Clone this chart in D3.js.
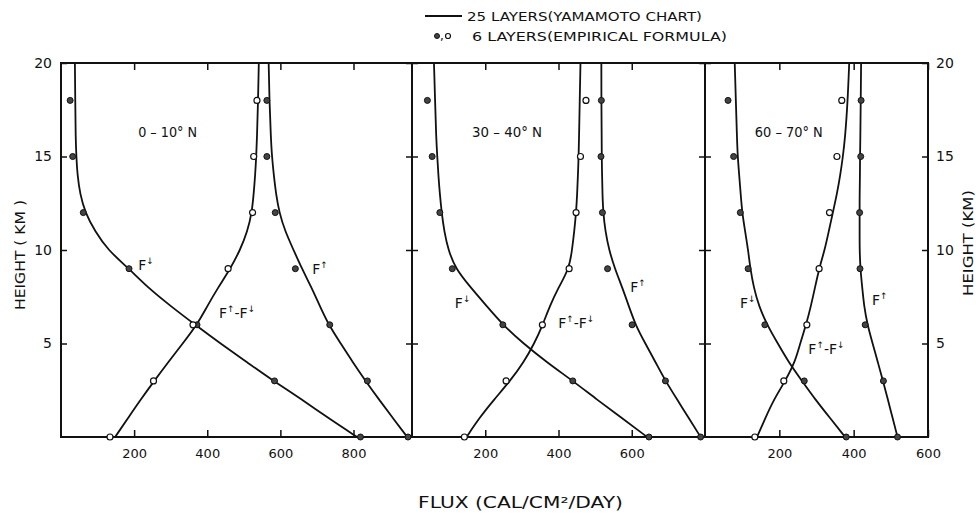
<!DOCTYPE html>
<html lang="en">
<head>
<meta charset="UTF-8" />
<title>Longwave flux profiles</title>
<script src="https://cdn.jsdelivr.net/npm/d3@7"></script>
<style>
  body { margin: 0; background: #fff; }
  svg { display: block; font-family: "DejaVu Sans", sans-serif; fill: #111; }
  .frame { fill: none; stroke: #111; stroke-width: 2; }
  .curve { fill: none; stroke: #111; stroke-width: 1.8; }
  .tick line { stroke: #111; stroke-width: 1.5; }
  .tick text { font-size: 13px; fill: #111; font-family: "DejaVu Sans", sans-serif; }
  .dot-fill { fill: #444; stroke: #111; stroke-width: 1; }
  .dot-open { fill: #fff; stroke: #111; stroke-width: 1.2; }
</style>
</head>
<body>
<svg id="chart" width="976" height="513"></svg>
<script>
  // heights (km) where the 25-layer curves were read
  const heights = [0, 1, 2, 3, 4, 5, 6, 7, 8, 9, 10, 11, 12, 13, 14, 15, 16, 18, 20];
  // heights of the 6-layer points
  const layerHeights = [0, 3, 6, 9, 12, 15, 18];

  const zones = ["0 – 10° N", "30 – 40° N", "60 – 70° N"];
  const fluxMax = [960, 800, 600];
  const fluxTicks = [[200, 400, 600, 800], [200, 400, 600], [200, 400, 600]];
  const heightTicks = [5, 10, 15, 20];

  // 25 layers (Yamamoto chart): F down, F up, F up - F down
  const down0 = [810, 732, 659, 581, 509, 436, 367, 300, 237, 186, 128, 93, 66, 52, 45, 42, 40, 39, 38];
  const up0 = [947, 908, 870, 833, 798, 765, 732, 708, 685, 659, 636, 613, 597, 588, 582, 577, 574, 570, 568];
  const net0 = [148, 183, 218, 255, 293, 333, 372, 400, 430, 463, 490, 510, 522, 527, 531, 534, 536, 539, 541];

  const down1 = [642, 574, 505, 439, 368, 304, 248, 204, 160, 119, 99, 88, 81, 76, 72, 69, 66, 63, 60];
  const up1 = [788, 756, 724, 692, 665, 637, 610, 592, 574, 554, 538, 528, 522, 520, 519, 518, 518, 517, 517];
  const net1 = [149, 183, 224, 268, 305, 334, 357, 376, 400, 429, 437, 443, 448, 451, 453, 455, 456, 458, 460];

  const down2 = [377, 337, 297, 261, 225, 196, 167, 145, 131, 122, 116, 108, 100, 96, 92, 88, 86, 83, 80];
  const up2 = [518, 505, 492, 479, 465, 451, 437, 428, 423, 418, 416, 416, 416, 416, 417, 417, 418, 419, 420];
  const net2 = [140, 162, 185, 216, 242, 256, 272, 285, 296, 307, 322, 333, 344, 355, 364, 371, 377, 384, 388];

  // 6 layers (empirical formula)
  const down0Pts = [819, 584, 372, 186, 61, 32, 25];
  const up0Pts = [949, 838, 735, 641, 586, 563, 563];
  const net0Pts = [134, 253, 361, 457, 524, 527, 536];

  const down1Pts = [647, 439, 248, 110, 76, 55, 42];
  const up1Pts = [788, 692, 601, 534, 520, 516, 517];
  const net1Pts = [143, 257, 356, 429, 448, 460, 475];

  const down2Pts = [380, 267, 161, 116, 95, 77, 62];
  const up2Pts = [518, 480, 431, 417, 416, 419, 420];
  const net2Pts = [134, 212, 274, 307, 335, 355, 368];

  const curves = [[down0, up0, net0], [down1, up1, net1], [down2, up2, net2]];
  const points = [[down0Pts, up0Pts, net0Pts], [down1Pts, up1Pts, net1Pts], [down2Pts, up2Pts, net2Pts]];

  // annotation anchors in data units [flux, height]
  const zoneAt = [[211, 16.05], [164, 16.05], [134, 16.05]];
  const labelAt = [
    [[211, 8.95], [687, 8.7], [432, 6.35]],
    [[117, 6.9], [596, 7.75], [399, 5.85]],
    [[94, 6.9], [449, 7.05], [278, 4.45]],
  ];

  const edges = [61, 412, 705, 928];
  const plotTop = 63, plotBottom = 437;

  const svg = d3.select("#chart");
  const y = d3.scaleLinear().domain([0, 20]).range([plotBottom, plotTop]);

  const line = (xs, vals) => d3.line()
    .x((d, i) => xs(vals[i]))
    .y(d => y(d))
    .curve(d3.curveBasis)(heights);

  zones.forEach((zone, p) => {
    const x = d3.scaleLinear().domain([0, fluxMax[p]]).range([edges[p], edges[p + 1]]);
    const g = svg.append("g");

    // ticks, all pointing into the panel
    g.append("g")
      .attr("transform", `translate(0,${plotBottom})`)
      .call(d3.axisBottom(x).tickValues(fluxTicks[p]).tickSize(-7).tickPadding(12))
      .call(a => a.select(".domain").remove());
    g.append("g")
      .attr("transform", `translate(0,${plotTop})`)
      .call(d3.axisTop(x).tickValues(fluxTicks[p]).tickSize(-7).tickFormat(""))
      .call(a => a.select(".domain").remove());
    g.append("g")
      .attr("transform", `translate(${edges[p]},0)`)
      .call(d3.axisLeft(y).tickValues(heightTicks).tickSize(-6).tickPadding(9)
        .tickFormat(p === 0 ? d3.format("d") : ""))
      .call(a => a.select(".domain").remove())
      .selectAll(".tick text").style("font-size", "14px");
    g.append("g")
      .attr("transform", `translate(${edges[p + 1]},0)`)
      .call(d3.axisRight(y).tickValues(heightTicks).tickSize(-6).tickPadding(8)
        .tickFormat(p === 2 ? d3.format("d") : ""))
      .call(a => a.select(".domain").remove())
      .selectAll(".tick text").style("font-size", "14px");

    g.append("rect").attr("class", "frame")
      .attr("x", edges[p]).attr("y", plotTop)
      .attr("width", edges[p + 1] - edges[p]).attr("height", plotBottom - plotTop);

    curves[p].forEach(vals => {
      g.append("path").attr("class", "curve").attr("d", line(x, vals));
    });

    points[p].forEach((vals, k) => {
      g.selectAll(null).data(layerHeights).enter().append("circle")
        .attr("class", k === 2 ? "dot-open" : "dot-fill")
        .attr("cx", (d, i) => x(vals[i]))
        .attr("cy", d => y(d))
        .attr("r", 3);
    });

    g.append("text")
      .attr("x", x(zoneAt[p][0])).attr("y", y(zoneAt[p][1]))
      .style("font-size", "14px")
      .attr("textLength", [59, 70, 68][p]).attr("lengthAdjust", "spacingAndGlyphs")
      .text(zone);

    const names = [["F", "↓"], ["F", "↑"], ["F", "↑", "-F", "↓"]];
    names.forEach((parts, k) => {
      const t = g.append("text")
        .attr("x", x(labelAt[p][k][0])).attr("y", y(labelAt[p][k][1]))
        .style("font-size", "14px");
      parts.forEach((s, j) => {
        const sup = j % 2 === 1;
        t.append("tspan")
          .attr("dy", sup ? -6 : (j > 0 ? 6 : 0))
          .style("font-size", sup ? "9px" : "14px")
          .text(s);
      });
    });
  });

  // axis titles
  svg.append("text")
    .attr("transform", "translate(25,255) rotate(-90)")
    .attr("text-anchor", "middle")
    .style("font-size", "14px")
    .attr("textLength", 110).attr("lengthAdjust", "spacingAndGlyphs")
    .text("HEIGHT ( KM )");
  svg.append("text")
    .attr("transform", "translate(973,243) rotate(-90)")
    .attr("text-anchor", "middle")
    .style("font-size", "14px")
    .attr("textLength", 106).attr("lengthAdjust", "spacingAndGlyphs")
    .text("HEIGHT (KM)");
  svg.append("text")
    .attr("x", 418).attr("y", 508)
    .style("font-size", "15px")
    .attr("textLength", 205).attr("lengthAdjust", "spacingAndGlyphs")
    .text("FLUX (CAL/CM²/DAY)");

  // legend
  const legend = svg.append("g");
  legend.append("line")
    .attr("x1", 425).attr("x2", 462).attr("y1", 16).attr("y2", 16)
    .attr("stroke", "#111").attr("stroke-width", 1.8);
  legend.append("text")
    .attr("x", 467).attr("y", 21)
    .style("font-size", "13px")
    .attr("textLength", 235).attr("lengthAdjust", "spacingAndGlyphs")
    .text("25 LAYERS(YAMAMOTO CHART)");
  legend.append("circle").attr("class", "dot-fill").attr("cx", 437).attr("cy", 36).attr("r", 2.5);
  legend.append("text").attr("x", 440).attr("y", 40).style("font-size", "12px").text(",");
  legend.append("circle").attr("class", "dot-open").attr("cx", 448).attr("cy", 36).attr("r", 2.5);
  legend.append("text")
    .attr("x", 472).attr("y", 41)
    .style("font-size", "13px")
    .attr("textLength", 255).attr("lengthAdjust", "spacingAndGlyphs")
    .text("6 LAYERS(EMPIRICAL FORMULA)");
</script>
</body>
</html>
